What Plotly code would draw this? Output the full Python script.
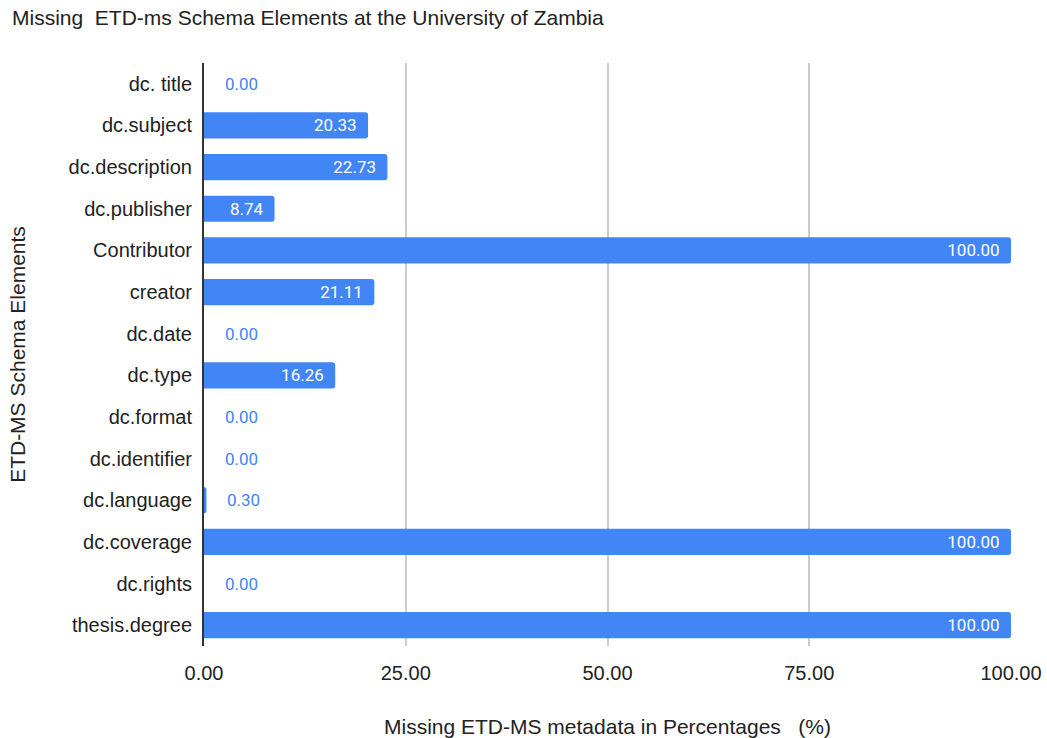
import plotly.graph_objects as go

categories = ["dc. title", "dc.subject", "dc.description", "dc.publisher", "Contributor",
              "creator", "dc.date", "dc.type", "dc.format", "dc.identifier",
              "dc.language", "dc.coverage", "dc.rights", "thesis.degree"]
values = [0.00, 20.33, 22.73, 8.74, 100.00, 21.11, 0.00, 16.26, 0.00, 0.00, 0.30, 100.00, 0.00, 100.00]
x_ticks = [0, 25, 50, 75, 100]
x_tick_labels = ["0.00", "25.00", "50.00", "75.00", "100.00"]

BLUE = "#4285F4"
TXT = "#222222"
ARIAL = "Liberation Sans, Arial"
threshold = 5

inside_text = [f"{v:.2f}\u00a0\u00a0" if v >= threshold else "" for v in values]

fig = go.Figure()
fig.add_trace(go.Bar(
    x=values, y=categories, orientation="h",
    marker=dict(color=BLUE, line=dict(width=0)),
    width=0.63,
    text=inside_text, textposition="inside", insidetextanchor="end",
    textfont=dict(family="Roboto", size=17, color="white"),
    cliponaxis=False, hoverinfo="skip",
))

for c, v in zip(categories, values):
    if v < threshold:
        fig.add_annotation(x=v, y=c, text=f"{v:.2f}", showarrow=False,
                           xanchor="left", xshift=19,
                           font=dict(family="Roboto", size=17, color=BLUE))

fig.update_layout(
    width=1047, height=738,
    margin=dict(l=204, r=36, t=63, b=92),
    paper_bgcolor="white", plot_bgcolor="white",
    barcornerradius=3,
    showlegend=False,
    title=dict(text="Missing\u00a0 ETD-ms Schema Elements at the University of Zambia",
               x=12 / 1047, xanchor="left", xref="container",
               y=1 - 18 / 738, yanchor="middle", yref="container",
               font=dict(family=ARIAL, size=21, color=TXT)),
    xaxis=dict(range=[0, 100], tickvals=x_ticks, ticktext=x_tick_labels,
               showgrid=True, gridcolor="#cccccc", gridwidth=1.5,
               zeroline=False, showline=False, automargin=False,
               tickfont=dict(family=ARIAL, size=20, color=TXT),
               ticks="", ticklabelstandoff=13,
               title=dict(text="Missing ETD-MS metadata in Percentages\u00a0\u00a0 (%)",
                          font=dict(family=ARIAL, size=21, color=TXT),
                          standoff=38)),
    yaxis=dict(categoryorder="array", categoryarray=categories, autorange="reversed",
               showline=True, linecolor="#333333", linewidth=2, automargin=False,
               showgrid=False, ticks="", ticklabelstandoff=6,
               tickfont=dict(family=ARIAL, size=20, color=TXT),
               title=dict(text="ETD-MS Schema Elements",
                          font=dict(family=ARIAL, size=21, color=TXT),
                          standoff=37)),
)

fig.write_html("out.html", config={"displayModeBar": False},
               post_script="document.body.style.margin='0';document.documentElement.style.overflow='hidden';")
